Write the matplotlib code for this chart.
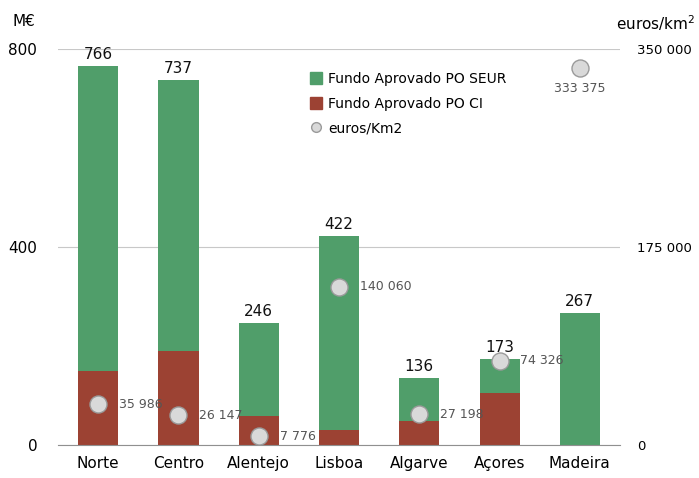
import matplotlib.pyplot as plt
from matplotlib.lines import Line2D

# dados
regioes = ['Norte', 'Centro', 'Alentejo', 'Lisboa', 'Algarve', 'Açores', 'Madeira']
total = [766, 737, 246, 422, 136, 173, 267]
po_ci = [150, 190, 59, 30, 49, 106, 0]  # parte vermelha
po_seur = [t - c for t, c in zip(total, po_ci)]  # parte verde
euros_km2 = [35986, 26147, 7776, 140060, 27198, 74326, 333375]

verde = '#509e6a'
vermelho = '#9c4233'

plt.rcParams['font.family'] = ['DejaVu Sans']

fig = plt.figure(figsize=(6.99, 4.78), dpi=100)
ax = fig.add_axes([0.083, 0.069, 0.804, 0.8285])
x = list(range(len(regioes)))

ax.bar(x, po_ci, width=0.5, color=vermelho, zorder=2)
ax.bar(x, po_seur, width=0.5, bottom=po_ci, color=verde, zorder=2)

for i, t in enumerate(total):
    ax.annotate(str(t), (i, t), xytext=(0, 3), textcoords='offset points',
                ha='center', va='bottom', fontsize=11, color='#111111')

ax.set_xlim(-0.5, len(regioes) - 0.5)
ax.set_ylim(0, 800)
ax.set_yticks([0, 400, 800])
ax.set_xticks(x)
ax.set_xticklabels(regioes, fontsize=11)
ax.tick_params(axis='both', length=0)
ax.tick_params(axis='y', labelsize=11, pad=15)
ax.tick_params(axis='x', pad=8)
for s in ['top', 'right', 'left']:
    ax.spines[s].set_visible(False)
ax.spines['bottom'].set_color('#909090')
ax.yaxis.grid(True, color='#c8c8c8', linewidth=0.8, zorder=0)
ax.set_axisbelow(True)

# eixo da direita: euros/km2
ax2 = ax.twinx()
ax2.set_ylim(0, 350000)
ax2.set_yticks([0, 175000, 350000])
ax2.set_yticklabels(['0', '175 000', '350 000'], fontsize=9.5)
ax2.tick_params(axis='y', length=0, pad=12)
for s in ax2.spines.values():
    s.set_visible(False)

ax2.scatter(x, euros_km2, s=150, color='#d9d9d9', edgecolor='#9a9a9a',
            linewidth=1, zorder=4)
for i, v in enumerate(euros_km2):
    txt = '{:,}'.format(v).replace(',', ' ')
    if regioes[i] == 'Madeira':
        ax2.annotate(txt, (i, v), xytext=(0, -10), textcoords='offset points',
                     ha='center', va='top', fontsize=9, color='#555555')
    else:
        ax2.annotate(txt, (i, v), xytext=(15, 0), textcoords='offset points',
                     ha='left', va='center', fontsize=9, color='#555555')

fig.text(0.018, 0.955, 'M€', fontsize=11, va='center')
fig.text(0.994, 0.952, 'euros/km$^2$', fontsize=11, va='center', ha='right')

handles = [
    Line2D([], [], marker='s', linestyle='', color=verde, markersize=8),
    Line2D([], [], marker='s', linestyle='', color=vermelho, markersize=8),
    Line2D([], [], marker='o', linestyle='', markerfacecolor='#d9d9d9',
           markeredgecolor='#9a9a9a', markersize=7),
]
fig.legend(handles, ['Fundo Aprovado PO SEUR', 'Fundo Aprovado PO CI', 'euros/Km2'],
           loc='upper left', bbox_to_anchor=(0.426, 0.875), frameon=False,
           fontsize=10, handlelength=0.8, handletextpad=0.5, labelspacing=0.75)

fig.savefig('out.png', dpi=100)
